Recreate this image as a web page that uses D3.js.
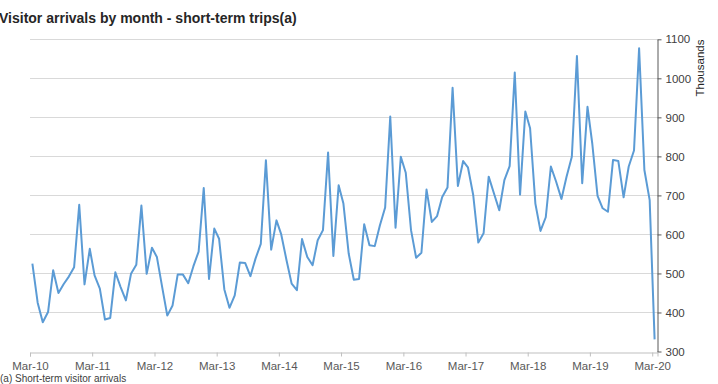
<!DOCTYPE html>
<html>
<head>
<meta charset="utf-8">
<script src="https://cdn.jsdelivr.net/npm/d3@7"></script>
<style>
  body { margin: 0; background: #fff; }
  svg { font-family: "Liberation Sans", Arial, sans-serif; }
</style>
</head>
<body>
<svg id="chart" width="718" height="384"></svg>
<script>
// monthly visitor arrivals (thousands), Mar-10 .. Mar-20
var startYear = 2010, startMonth = 2; // March
var arrivals = [
  525, 425, 375, 401, 508, 450, 473, 492, 516, 676,
  472, 563, 495, 461, 382, 386, 503, 465, 431, 499, 522, 674,
  499, 566, 542, 465, 392, 418, 497, 497, 475, 518, 556, 719,
  486, 615, 589, 459, 412, 444, 528, 527, 493, 538, 576, 790,
  561, 636, 600, 534, 474, 457, 588, 542, 521, 585, 611, 810,
  545, 726, 679, 551, 484, 486, 626, 572, 570, 623, 669, 902,
  617, 799, 758, 611, 540, 553, 715, 632, 647, 696, 720, 976,
  724, 788, 772, 701, 579, 603, 748, 705, 662, 739, 775, 1015,
  702, 915, 872, 679, 609, 644, 774, 735, 691, 748, 799, 1057,
  731, 927, 833, 699, 667, 658, 791, 788, 695, 774, 815, 1077,
  765, 688, 331
];
var yTicks = [300, 400, 500, 600, 700, 800, 900, 1000, 1100];
var xTickYears = [2010, 2011, 2012, 2013, 2014, 2015, 2016, 2017, 2018, 2019, 2020];

var svg = d3.select("#chart");

var x = d3.scaleTime()
  .domain([new Date(2010, 2, 1), new Date(2020, 3, 1)])
  .range([30, 657.5]);
var y = d3.scaleLinear().domain([300, 1100]).range([351.5, 39.3]);

// title
svg.append("text")
  .attr("x", -1).attr("y", 23)
  .attr("font-size", 14).attr("font-weight", "bold")
  .attr("fill", "#262626")
  .text("Visitor arrivals by month - short-term trips(a)");

// gridlines
svg.append("g").selectAll("line")
  .data(yTicks.slice(1))
  .enter().append("line")
    .attr("x1", 30).attr("x2", 657.5)
    .attr("y1", function(d) { return Math.round(y(d)) + 0.5; })
    .attr("y2", function(d) { return Math.round(y(d)) + 0.5; })
    .attr("stroke", "#d9d9d9");

// x axis
var xAxis = d3.axisBottom(x)
  .tickValues(xTickYears.map(function(yr) { return new Date(yr, 2, 1); }))
  .tickFormat(d3.timeFormat("Mar-%y"))
  .tickSize(4).tickPadding(5);
var gx = svg.append("g").attr("transform", "translate(0," + (Math.round(y(300)) + 0.5) + ")").call(xAxis);
gx.select(".domain").attr("stroke", "#bfbfbf");
gx.selectAll(".tick line").attr("stroke", "#bfbfbf");
gx.selectAll(".tick text").attr("font-size", 11.5).attr("fill", "#595959")
  .attr("font-family", "'Liberation Sans', Arial, sans-serif");

// y axis on the right
var yAxis = d3.axisRight(y).tickValues(yTicks).tickFormat(d3.format("d"))
  .tickSize(4).tickPadding(4).tickSizeOuter(0);
var gy = svg.append("g").attr("transform", "translate(657.5,0)").call(yAxis);
gy.select(".domain").attr("stroke", "#595959");
gy.selectAll(".tick line").attr("stroke", "#595959");
gy.selectAll(".tick text").attr("font-size", 11.5).attr("fill", "#404040")
  .attr("font-family", "'Liberation Sans', Arial, sans-serif");

svg.append("text")
  .attr("transform", "translate(704,68) rotate(-90)")
  .attr("text-anchor", "middle")
  .attr("font-size", 11.5).attr("fill", "#262626")
  .text("Thousands");

// the series
var data = arrivals.map(function(v, i) {
  return { date: new Date(startYear, startMonth + i, 15), value: v };
});
var line = d3.line()
  .x(function(d) { return x(d.date); })
  .y(function(d) { return y(d.value); });
svg.append("path")
  .datum(data)
  .attr("d", line)
  .attr("fill", "none")
  .attr("stroke", "#5b9bd5")
  .attr("stroke-width", 2)
  .attr("stroke-linejoin", "round");

// footnote at the bottom edge
svg.append("text")
  .attr("x", 0).attr("y", 382)
  .attr("font-size", 10).attr("fill", "#404040")
  .text("(a) Short-term visitor arrivals");
</script>
</body>
</html>
